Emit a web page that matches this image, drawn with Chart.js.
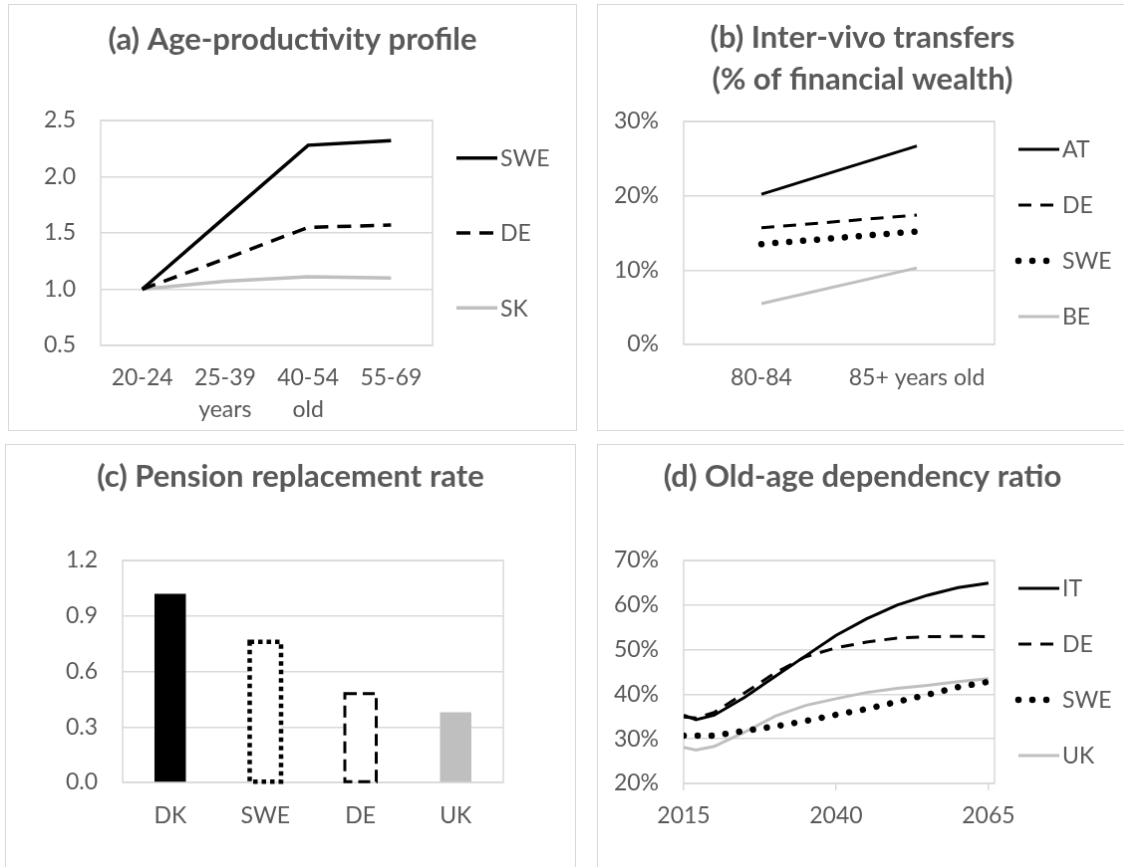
<!DOCTYPE html>
<html>
<head>
<meta charset="utf-8">
<script src="https://cdn.jsdelivr.net/npm/chart.js@4.4.1/dist/chart.umd.min.js"></script>
<style>
html,body{margin:0;padding:0;background:#fff;width:1124px;height:867px;overflow:hidden}
canvas{position:absolute;border:1px solid #d9d9d9;background:#fff}
#ca{left:8px;top:4px}
#cb{left:597px;top:4px}
#cc{left:5px;top:444px}
#cd{left:597px;top:444px}
</style>
</head>
<body>
<canvas id="ca" width="569" height="427"></canvas>
<canvas id="cb" width="531" height="427"></canvas>
<canvas id="cc" width="571" height="424"></canvas>
<canvas id="cd" width="531" height="424"></canvas>
<script>
// (a) age-productivity
const ageGroups=['20-24',['25-39','years'],['40-54','old'],'55-69'];
const prodSWE=[1.0,1.64,2.28,2.32];
const prodDE=[1.0,1.27,1.55,1.57];
const prodSK=[1.0,1.07,1.11,1.10];
// (b) inter-vivo transfers, % of financial wealth
const transferAges=['80-84','85+ years old'];
const trAT=[20.2,26.7];
const trDE=[15.7,17.4];
const trSWE=[13.5,15.2];
const trBE=[5.5,10.3];
// (c) pension replacement rate
const pensionCountries=['DK','SWE','DE','UK'];
const pensionRate=[1.02,0.76,0.48,0.38];
// (d) old-age dependency ratio, %
const years=[2015,2017,2020,2025,2030,2035,2040,2045,2050,2055,2060,2065];
const depIT=[35.3,34.3,35.3,39.3,44.0,48.6,53.2,56.9,60.0,62.2,63.9,64.9];
const depDE=[34.9,34.7,35.9,40.3,44.8,48.4,50.4,51.7,52.6,52.9,53.0,52.9];
const depSWE=[30.7,30.7,30.7,31.8,32.8,34.0,35.4,36.7,38.3,39.9,41.6,42.8];
const depUK=[28.1,27.5,28.3,31.5,35.1,37.5,39.0,40.4,41.3,42.0,42.8,43.5];
const yearTicks=[2015,2040,2065];

const GRAY='#595959',GRID='#d9d9d9',FONT='Lato';
Chart.defaults.font.family=FONT;

const frame={id:'frame',beforeDatasetsDraw(c){const a=c.chartArea,x=c.ctx;x.save();x.strokeStyle=GRID;x.lineWidth=1.5;x.strokeRect(a.left,a.top,a.right-a.left,a.bottom-a.top);x.restore()}};
const sideLegend={id:'sideLegend',afterDraw(c,args,o){
  const a=c.chartArea,ctx=c.ctx,ds=c.data.datasets,n=ds.length,step=(a.bottom-a.top)/n,cy=(a.top+a.bottom)/2;
  ctx.save();
  ds.forEach((d,i)=>{
    const y=cy+(i-(n-1)/2)*step,x0=a.right+o.gap;
    ctx.beginPath();ctx.strokeStyle=d.borderColor;ctx.lineWidth=d.borderWidth;ctx.setLineDash(d.borderDash||[]);ctx.lineCap=d.borderCapStyle||'butt';
    ctx.moveTo(x0,y);ctx.lineTo(x0+o.len-1,y);ctx.stroke();ctx.setLineDash([]);
    ctx.fillStyle=GRAY;ctx.font='23px '+FONT;ctx.textBaseline='middle';ctx.textAlign='left';
    ctx.fillText(d.label,x0+o.len+2,y+1);
  });
  ctx.restore();
}};
const barOutline={id:'barOutline',afterDatasetsDraw(c,args,o){
  const m=c.getDatasetMeta(0),ctx=c.ctx;
  m.data.forEach((b,i)=>{const s=o.styles[i];if(!s)return;
    const p=b.getProps(['x','y','base','width'],true);
    ctx.save();ctx.strokeStyle='#000';ctx.lineWidth=s.w;ctx.setLineDash(s.d);
    ctx.strokeRect(p.x-p.width/2,p.y,p.width,p.base-p.y);ctx.restore()});
}};

const SOLID={borderColor:'#000',borderWidth:3.5};
const DASH={borderColor:'#000',borderWidth:3.5,borderDash:[14,9]};
const DOTS={borderColor:'#000',borderWidth:6.5,borderDash:[0.01,14],borderCapStyle:'round'};
const LIGHT={borderColor:'#bfbfbf',borderWidth:3.5};

function tickFont(){return {family:FONT,size:23,lineHeight:1.38}}
function yAxis(w,min,max,step,fmt){return {min:min,max:max,afterFit(s){s.width=w},
  ticks:{stepSize:step,color:GRAY,font:tickFont(),padding:25,callback:fmt},
  grid:{color:GRID,lineWidth:1.5,drawTicks:false},border:{display:false}}}
function catAxis(h,pad){return {type:'category',offset:true,afterFit(s){s.height=h},
  ticks:{color:GRAY,font:tickFont(),padding:pad,maxRotation:0,autoSkip:false},
  grid:{display:false,drawTicks:false},border:{display:false}}}
// empty right-hand box that keeps room for the legend, so the title stays centred on the panel
function spacer(w){return {type:'linear',position:'right',afterFit(s){s.width=w},
  ticks:{display:false},grid:{display:false,drawTicks:false},border:{display:false}}}
function opts(o){return {responsive:false,animation:false,
  layout:{padding:0},
  elements:{point:{radius:0},line:{tension:0}},
  plugins:{legend:{display:false},tooltip:{enabled:false},
    title:{display:true,text:o.title,color:GRAY,font:{family:FONT,size:31,weight:'bold',lineHeight:o.lh},padding:{top:o.tTop,bottom:o.tBot}},
    sideLegend:o.legend,barOutline:o.outline},
  scales:{x:o.x,y:o.y,room:spacer(o.padR)}}}

new Chart(document.getElementById('ca'),{type:'line',
  data:{labels:ageGroups,datasets:[
    Object.assign({label:'SWE',data:prodSWE},SOLID),
    Object.assign({label:'DE',data:prodDE},DASH),
    Object.assign({label:'SK',data:prodSK},LIGHT)]},
  options:opts({title:'(a) Age-productivity profile',lh:1.2,tTop:16.4,tBot:62.4,padR:144,
    legend:{gap:24,len:42},
    x:catAxis(85,17),y:yAxis(92,0.5,2.5,0.5,v=>v.toFixed(1))}),
  plugins:[frame,sideLegend]});

new Chart(document.getElementById('cb'),{type:'line',
  data:{labels:transferAges,datasets:[
    Object.assign({label:'AT',data:trAT},SOLID,{borderWidth:3}),
    Object.assign({label:'DE',data:trDE},DASH,{borderWidth:3,borderDash:[13,9]}),
    Object.assign({label:'SWE',data:trSWE},DOTS),
    Object.assign({label:'BE',data:trBE},LIGHT,{borderWidth:3})]},
  options:opts({title:['(b) Inter-vivo transfers','(% of financial wealth)'],lh:42/31,tTop:12,tBot:21,padR:133,
    legend:{gap:24,len:42},
    x:catAxis(86,18),y:yAxis(86,0,30,10,v=>v+'%')}),
  plugins:[frame,sideLegend]});

new Chart(document.getElementById('cc'),{type:'bar',
  data:{labels:pensionCountries,datasets:[{label:'Pension replacement rate',data:pensionRate,
    backgroundColor:['#000','#fff','#fff','#bfbfbf'],borderWidth:0,barPercentage:0.33,categoryPercentage:1}]},
  options:opts({title:'(c) Pension replacement rate',lh:1.2,tTop:13.4,tBot:65.4,padR:72,
    outline:{styles:[null,{w:4.5,d:[4.5,4]},{w:3,d:[12,6]},null]},
    x:catAxis(85,18),y:yAxis(117,0,1.2,0.3,v=>v.toFixed(1))}),
  plugins:[frame,barOutline]});

new Chart(document.getElementById('cd'),{type:'line',
  data:{datasets:[
    Object.assign({label:'IT',data:years.map((y,i)=>({x:y,y:depIT[i]}))},SOLID,{borderWidth:3}),
    Object.assign({label:'DE',data:years.map((y,i)=>({x:y,y:depDE[i]}))},DASH,{borderWidth:3,borderDash:[13,9]}),
    Object.assign({label:'SWE',data:years.map((y,i)=>({x:y,y:depSWE[i]}))},DOTS),
    Object.assign({label:'UK',data:years.map((y,i)=>({x:y,y:depUK[i]}))},LIGHT,{borderWidth:3})]},
  options:opts({title:'(d) Old-age dependency ratio',lh:1.2,tTop:13.4,tBot:65.4,padR:133,
    legend:{gap:24,len:42},
    x:{type:'linear',min:2015,max:2066,afterFit(s){s.height=84},
      afterBuildTicks(s){s.ticks=yearTicks.map(v=>({value:v}))},
      ticks:{color:GRAY,font:tickFont(),padding:10,maxRotation:0,callback:v=>String(v)},
      grid:{drawOnChartArea:false,drawTicks:true,tickLength:7,color:GRID,tickColor:GRID,lineWidth:1.5,tickWidth:1.5},border:{display:false}},
    y:yAxis(86,20,70,10,v=>v+'%')}),
  plugins:[frame,sideLegend]});
</script>
</body>
</html>
